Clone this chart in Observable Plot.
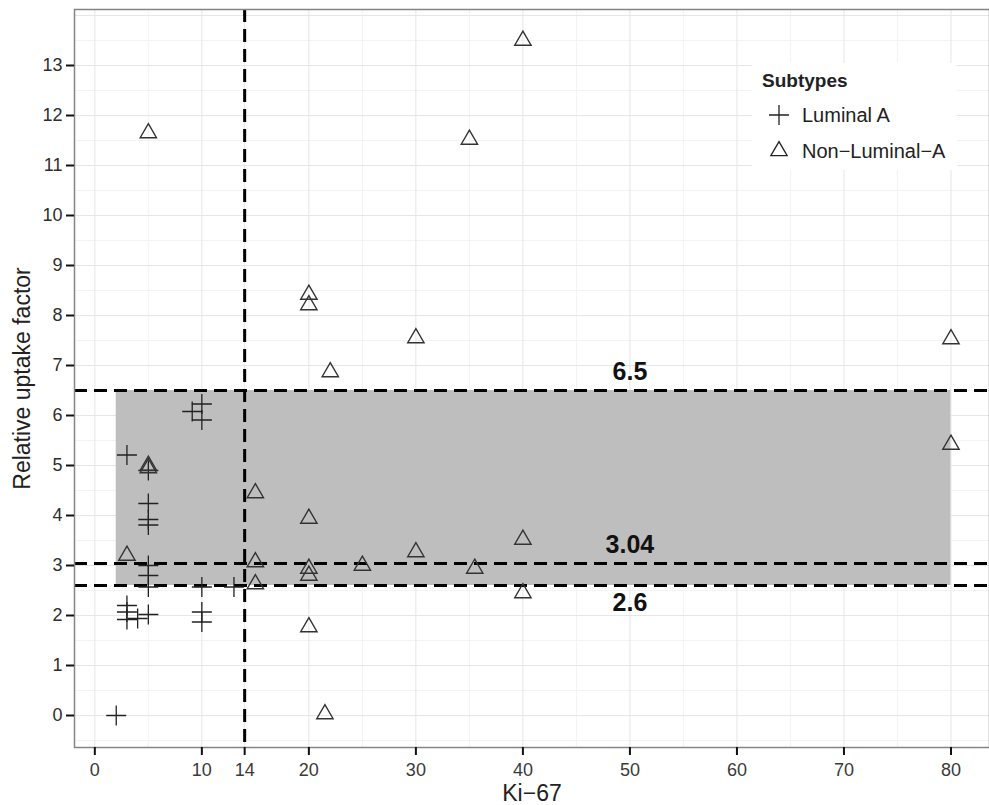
<!DOCTYPE html>
<html>
<head>
<meta charset="utf-8">
<script src="https://cdn.jsdelivr.net/npm/d3@7"></script>
<script src="https://cdn.jsdelivr.net/npm/@observablehq/plot@0.6"></script>
<style>
  html, body { margin: 0; padding: 0; background: white; }
  #wrap { position: relative; width: 989px; height: 805px; overflow: hidden; }
  #legend { position: absolute; left: 752px; top: 63px; width: 205px; height: 107px; background: white; }
</style>
</head>
<body>
<div id="wrap"><div id="chart"></div><div id="legend"></div></div>
<script>
// Luminal A (plus markers)
const lumX = [10, 9.1, 10, 3, 5, 5, 5, 5, 5, 5, 5, 10, 13, 3, 3, 3, 4, 5, 10, 10, 2];
const lumY = [6.23, 6.08, 5.91, 5.21, 4.9, 4.24, 3.92, 3.81, 3.0, 2.8, 2.57, 2.57, 2.57, 2.2, 2.07, 1.92, 1.94, 2.02, 2.07, 1.87, 0.0];
// Non-Luminal-A (triangle markers)
const nlX = [5, 40, 35, 20, 20, 30, 22, 80, 80, 5, 5, 3, 15, 15, 15, 20, 20, 20, 20, 21.5, 25, 30, 35.5, 40, 40];
const nlY = [11.65, 13.5, 11.52, 8.42, 8.21, 7.55, 6.87, 7.53, 5.42, 5.0, 4.95, 3.2, 4.45, 3.07, 2.63, 3.94, 2.94, 2.8, 1.77, 0.03, 3.0, 3.27, 2.94, 3.52, 2.45];

// reference lines and shaded band
const hLines = [6.5, 3.04, 2.6];
const hLabelsAbove = ["6.5", "3.04"];
const hLabelsBelow = ["2.6"];
const vLines = [14];
const labelX = 50;
const bandX = [2, 80];
const bandY = [2.6, 6.5];

// ticks and grid
const xTicks = [0, 10, 14, 20, 30, 40, 50, 60, 70, 80];
const yTicks = [0, 1, 2, 3, 4, 5, 6, 7, 8, 9, 10, 11, 12, 13];
const xGridMajor = [0, 10, 14, 20, 30, 40, 50, 60, 70, 80];
const xGridMinor = [5, 25, 35, 45, 55, 65, 75];
const yGridMajor = [0, 1, 2, 3, 4, 5, 6, 7, 8, 9, 10, 11, 12, 13, 14];
const yGridMinor = [-0.5, 0.5, 1.5, 2.5, 3.5, 4.5, 5.5, 6.5, 7.5, 8.5, 9.5, 10.5, 11.5, 12.5, 13.5];

const legendItems = ["Luminal A", "Non\u2212Luminal\u2212A"];

const lum = lumX.map((x, i) => ({x, y: lumY[i]}));
const nl = nlX.map((x, i) => ({x, y: nlY[i]}));
const band = [{x1: bandX[0], x2: bandX[1], y1: bandY[0], y2: bandY[1]}];
const above = hLines.slice(0, 2).map((v, i) => ({x: labelX, y: v, t: hLabelsAbove[i]}));
const below = hLines.slice(2).map((v, i) => ({x: labelX, y: v, t: hLabelsBelow[i]}));

const dash = {stroke: "black", strokeWidth: 3, strokeDasharray: "13,7"};
const plusR = 6.5, triR = 7.8;

const chart = Plot.plot({
  width: 989,
  height: 805,
  marginLeft: 74,
  marginRight: 0,
  marginTop: 9,
  marginBottom: 58,
  x: {domain: [-1.9, 83.6]},
  y: {domain: [-0.64, 14.12]},
  style: {fontFamily: "'Liberation Sans', Arial, sans-serif", background: "white", overflow: "visible"},
  marks: [
    Plot.ruleY(yGridMinor, {stroke: "#f3f3f3", strokeWidth: 1}),
    Plot.ruleX(xGridMinor, {stroke: "#f3f3f3", strokeWidth: 1}),
    Plot.ruleY(yGridMajor, {stroke: "#e6e6e6", strokeWidth: 1}),
    Plot.ruleX(xGridMajor, {stroke: "#e6e6e6", strokeWidth: 1}),
    Plot.rect(band, {x1: "x1", x2: "x2", y1: "y1", y2: "y2", fill: "#bebebe"}),
    Plot.ruleY(hLines, dash),
    Plot.ruleX(vLines, dash),
    Plot.dot(lum, {x: "x", y: "y", symbol: "plus", r: plusR, stroke: "#222", strokeWidth: 1.3, fill: "none"}),
    Plot.dot(nl, {x: "x", y: "y", symbol: "triangle2", r: triR, stroke: "#333", strokeWidth: 1.4, fill: "none"}),
    Plot.text(above, {x: "x", y: "y", text: "t", dy: -19, fontSize: 25, fontWeight: "bold", fill: "#111"}),
    Plot.text(below, {x: "x", y: "y", text: "t", dy: 17, fontSize: 25, fontWeight: "bold", fill: "#111"}),
    Plot.frame({stroke: "#858585", strokeWidth: 1.5}),
    Plot.axisX(xTicks, {tickSize: 8, tickPadding: 8, fontSize: 18, fill: "#3a3a3a", stroke: "#111", strokeWidth: 2, tickFormat: "d", label: null}),
    Plot.axisY(yTicks, {tickSize: 8, tickPadding: 4, fontSize: 18, fill: "#2e2e2e", stroke: "#111", strokeWidth: 2, tickFormat: "d", label: null}),
    Plot.text(["Ki\u221267"], {frameAnchor: "bottom", textAnchor: "middle", lineAnchor: "middle", dy: 46, fontSize: 23, fill: "#222"}),
    Plot.text(["Relative uptake factor"], {frameAnchor: "left", textAnchor: "middle", lineAnchor: "middle", rotate: -90, dx: -52, fontSize: 23, fill: "#222"})
  ]
});
document.getElementById("chart").appendChild(chart);

// legend (inside panel, top right)
const lg = d3.select("#legend").append("svg").attr("width", 205).attr("height", 107)
  .style("font-family", "'Liberation Sans', Arial, sans-serif");
lg.append("text").attr("x", 10).attr("y", 24).attr("font-size", 19).attr("font-weight", "bold").attr("fill", "#222").text("Subtypes");
const syms = [d3.symbol(d3.symbolPlus, Math.PI * plusR * plusR)(), d3.symbol(d3.symbolTriangle2, Math.PI * triR * triR)()];
const rowsY = [52, 88];
legendItems.forEach((t, i) => {
  lg.append("path").attr("d", syms[i]).attr("transform", `translate(27,${rowsY[i]})`)
    .attr("fill", "none").attr("stroke", "#222").attr("stroke-width", 1.3);
  lg.append("text").attr("x", 50).attr("y", rowsY[i] + 7).attr("font-size", 20).attr("fill", "#222").text(t);
});
</script>
</body>
</html>
